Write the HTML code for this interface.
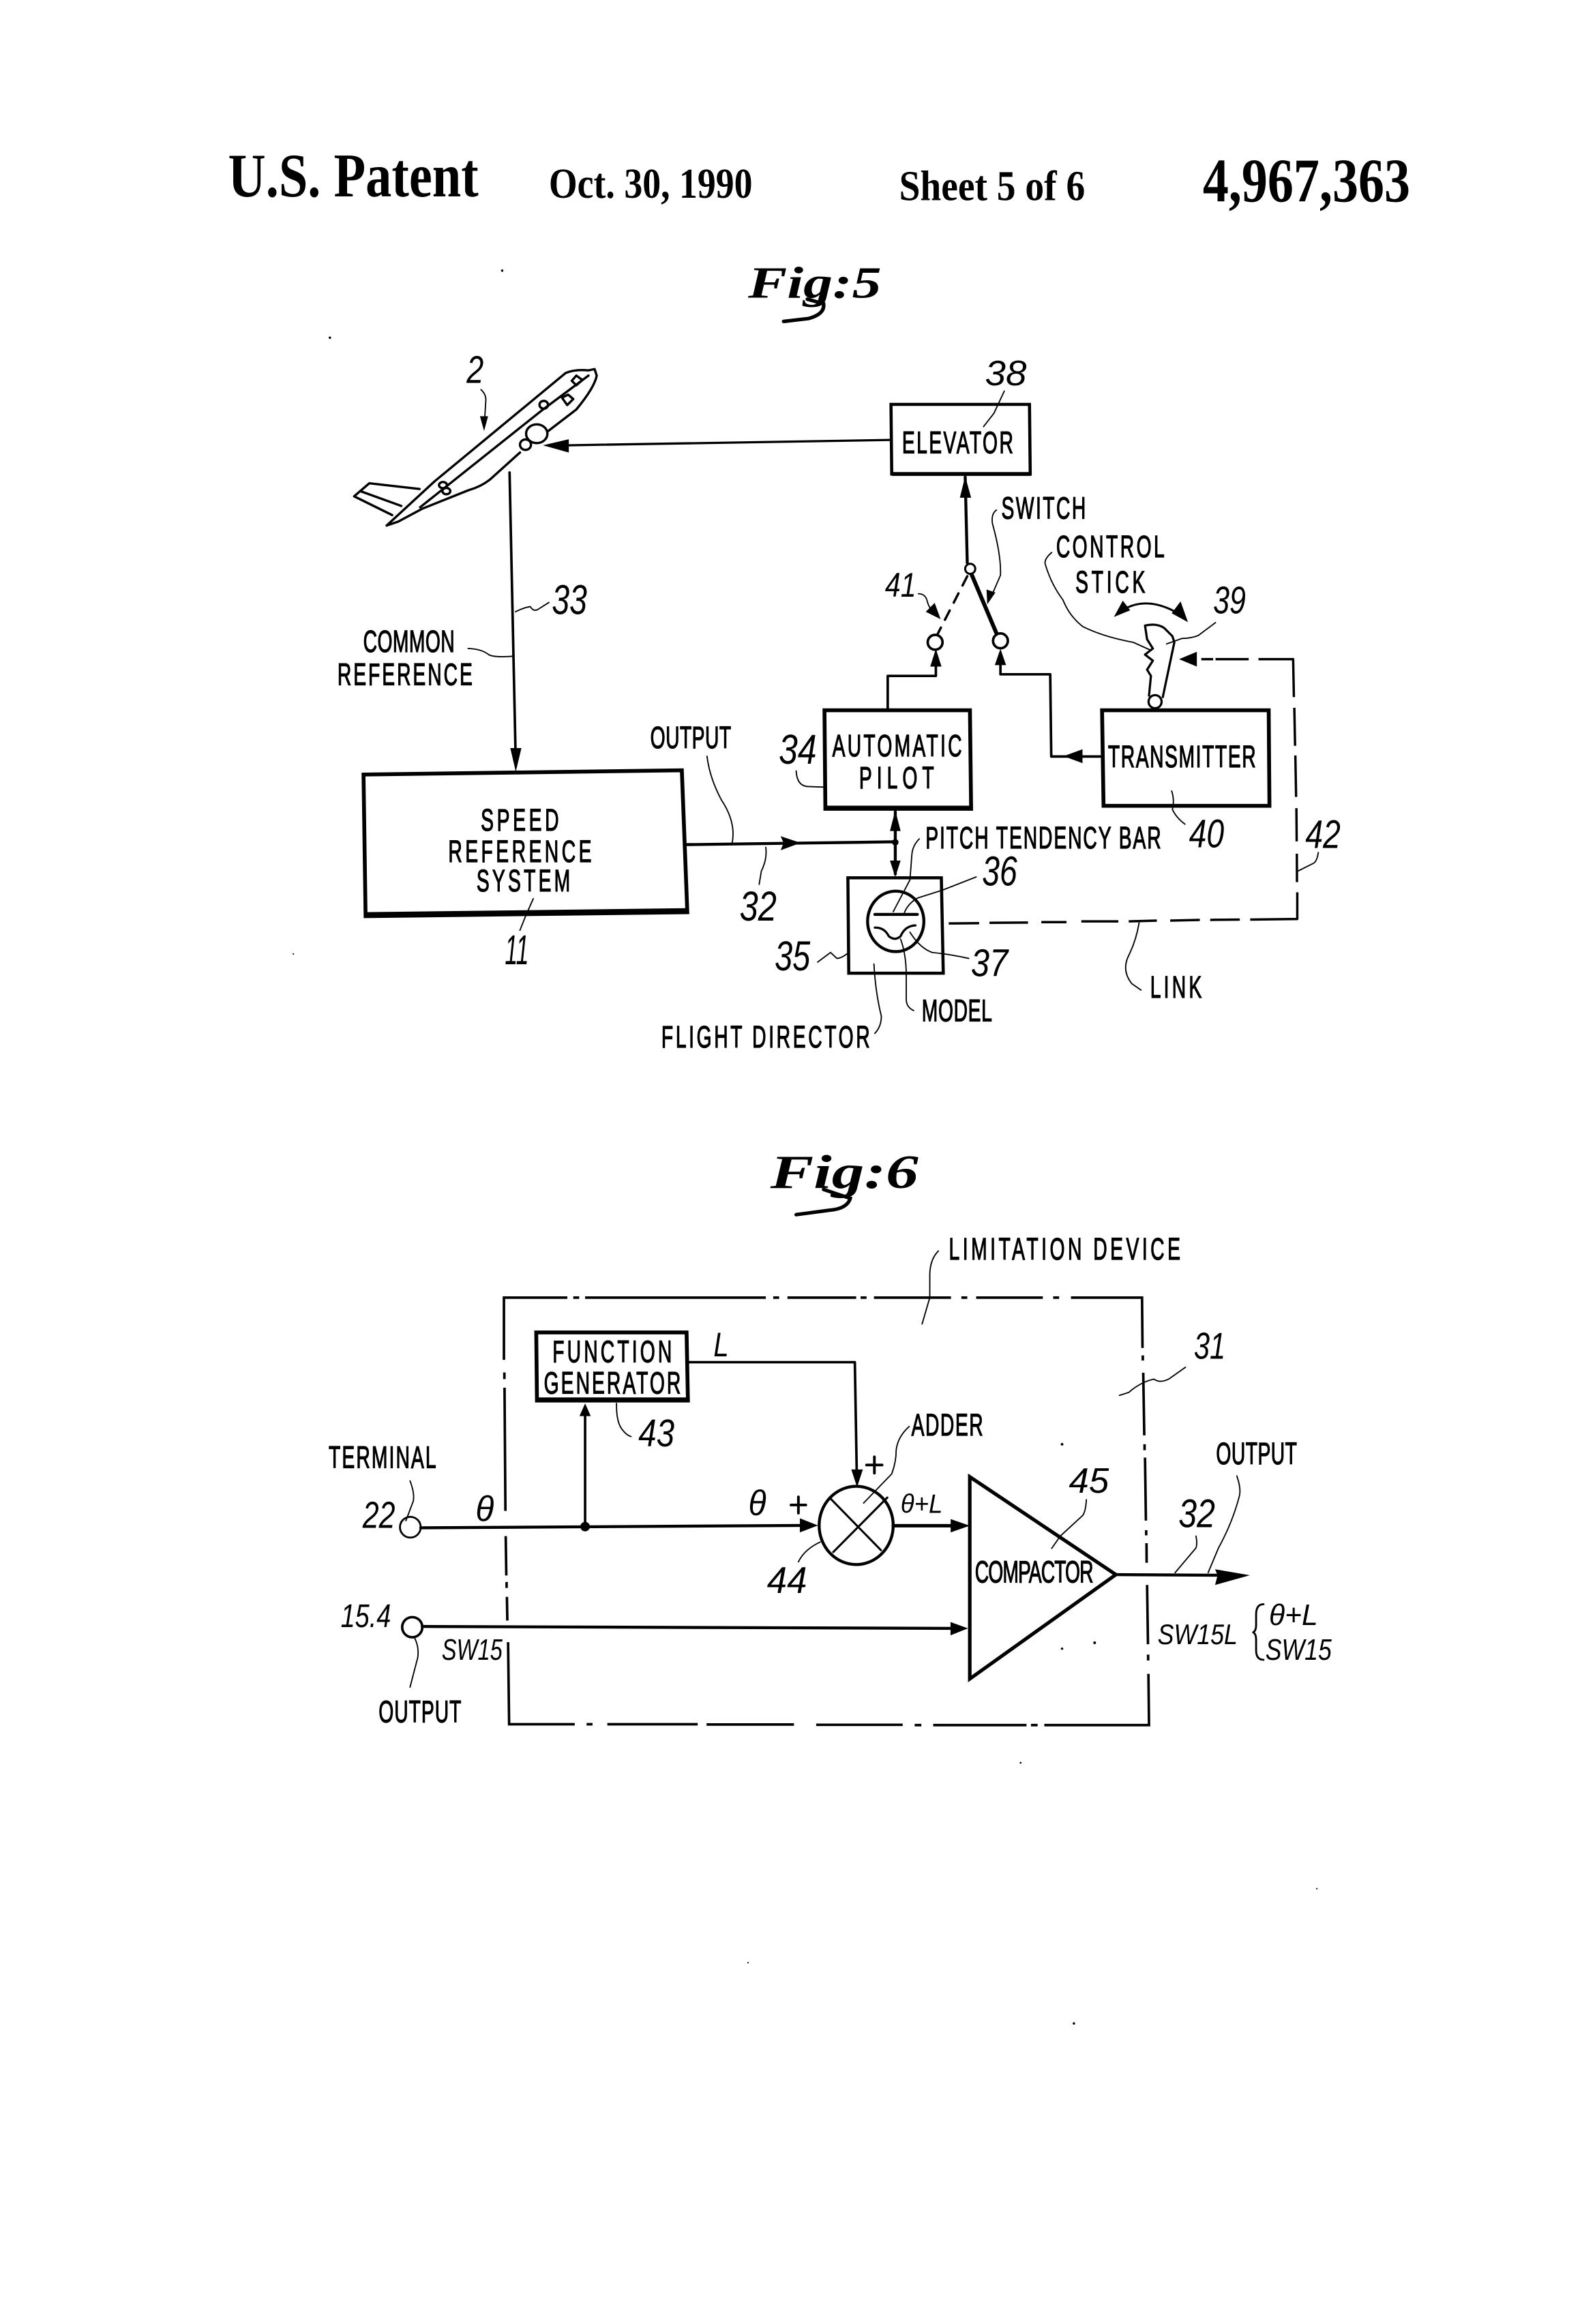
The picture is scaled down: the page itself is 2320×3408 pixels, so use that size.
<!DOCTYPE html>
<html><head><meta charset="utf-8"><title>U.S. Patent 4,967,363 Sheet 5</title>
<style>
html,body{margin:0;padding:0;background:#fff}
svg{display:block}
.n{fill:none;stroke:#000;stroke-width:1.7;stroke-linejoin:round;stroke-linecap:round}
.m{fill:none;stroke:#000;stroke-width:2.1;stroke-linejoin:miter}
.h{fill:none;stroke:#000;stroke-width:2.6;stroke-linejoin:miter}
.t{fill:none;stroke:#000;stroke-width:.85;stroke-linecap:round;stroke-linejoin:round}
.f{fill:#000;stroke:none}
.p{fill:none;stroke:#000;stroke-width:3.4;vector-effect:non-scaling-stroke;stroke-linejoin:round;stroke-linecap:round}
.c{font-family:"Liberation Sans",sans-serif;font-size:21px;fill:#000;stroke:#000;stroke-width:.6}
.i{font-family:"Liberation Sans",sans-serif;font-style:italic;font-size:26px;fill:#000}
.s{font-family:"Liberation Serif",serif;font-weight:bold;fill:#000}
.g{font-family:"Liberation Serif",serif;font-weight:bold;font-style:italic;fill:#000}
</style></head><body>
<svg xmlns="http://www.w3.org/2000/svg" width="2320" height="3408" viewBox="0 0 1068 1568.9">
<rect width="1068" height="1568.9" fill="#fff"/>

<!-- header -->
<text class="s" x="154" y="132.5" font-size="42" textLength="169" lengthAdjust="spacingAndGlyphs">U.S. Patent</text>
<text class="s" x="370.5" y="133.5" font-size="29" textLength="137.5" lengthAdjust="spacingAndGlyphs">Oct. 30, 1990</text>
<text class="s" x="607" y="135" font-size="29" textLength="125.5" lengthAdjust="spacingAndGlyphs">Sheet 5 of 6</text>
<text class="s" x="812" y="136" font-size="42" textLength="140" lengthAdjust="spacingAndGlyphs">4,967,363</text>

<!-- Fig 5 title -->
<text class="g" x="505" y="201" font-size="30" textLength="90" lengthAdjust="spacingAndGlyphs">Fig:5</text>
<path d="M545 202 L556 205 Q557 212 546 215 L529 217" fill="none" stroke="#000" stroke-width="2.4" stroke-linecap="round"/>

<!-- plane -->
<g transform="translate(207.2,221) scale(.2055,.176)">
<path class="p" d="M262 760 L420 590 L850 175 Q880 160 925 165 L945 160 L952 185 Q945 230 885 315 L790 400"/>
<path class="p" d="M700 480 L600 585 Q570 612 530 625 L380 695 L300 745 L262 760"/>
<path class="p" d="M372 690 L770 320 L925 185"/>
<path class="p" d="M370 620 L205 598 L155 648 L280 720"/>
<path class="p" d="M175 628 L310 685"/>
<ellipse class="p" cx="755" cy="408" rx="35" ry="36"/>
<ellipse class="p" cx="718" cy="450" rx="18" ry="20"/>
<ellipse class="p" cx="447" cy="605" rx="13" ry="12"/>
<ellipse class="p" cx="458" cy="628" rx="13" ry="12"/>
<ellipse class="p" cx="778" cy="297" rx="14" ry="15"/>
<path class="p" d="M838 270 L858 258 L875 275 L855 298 Z"/>
<path class="p" d="M870 205 L885 185 L905 202 L885 222 Z"/>
</g>
<text class="i" x="315" y="258.5" textLength="11.5" lengthAdjust="spacingAndGlyphs">2</text>
<path class="t" d="M324.7 263 Q328 266 328 270 L326.8 289"/>
<polygon class="f" points="324,281 329.5,281 326.8,291"/>

<!-- elevator -->
<path class="m" d="M601.5 273 H695 L695.5 320 H602 Z"/>
<path class="h" d="M602 320 H696"/>
<text class="c" transform="translate(609,306) scale(.62,1)" textLength="121" lengthAdjust="spacing">ELEVATOR</text>
<text class="i" x="665" y="260" textLength="28" lengthAdjust="spacingAndGlyphs" style="font-size:24px">38</text>
<path class="t" d="M678 264 L671 279 L664 288"/>
<path class="n" d="M601 297 L384 300.6" style="stroke-width:1.5"/>
<polygon class="f" points="366.5,300.6 384,296.5 384,305.5"/>

<!-- common reference -->
<path class="n" d="M344 319 L348 507"/>
<polygon class="f" points="344.5,505 352,505 348.2,521"/>
<path class="t" d="M348 413 Q354 410 358 409.5 Q360 413 363 411.5 L370.6 406.7"/>
<text class="i" x="372.6" y="414.6" textLength="23.7" lengthAdjust="spacingAndGlyphs" style="font-size:28px">33</text>
<text class="c" transform="translate(245.2,440) scale(.62,1)" textLength="99.5" lengthAdjust="spacing">COMMON</text>
<text class="c" transform="translate(227.8,462.5) scale(.62,1)" textLength="147" lengthAdjust="spacing">REFERENCE</text>
<path class="t" d="M316 437.8 Q325 438 330 442 Q334 444 346 443"/>

<!-- speed reference -->
<path class="h" d="M245.4 522.9 L460.3 520 L464 615.8 L246.8 618.5 Z"/>
<path class="h" d="M246.8 617.5 L464 614.8" style="stroke-width:3.4"/>
<text class="c" transform="translate(324.6,560.7) scale(.62,1)" textLength="85" lengthAdjust="spacing">SPEED</text>
<text class="c" transform="translate(302.6,582) scale(.62,1)" textLength="156" lengthAdjust="spacing">REFERENCE</text>
<text class="c" transform="translate(321.7,601.8) scale(.62,1)" textLength="102" lengthAdjust="spacing">SYSTEM</text>
<text class="i" x="340.8" y="651" textLength="16.2" lengthAdjust="spacingAndGlyphs" style="font-size:28px">11</text>
<path class="t" d="M360 606.7 L355 618 L351 628"/>
<path class="n" d="M464 570.2 L603.6 568.3" style="stroke-width:2"/>
<polygon class="f" points="540.5,569 527,564.5 529,569 527,574"/>
<text class="c" transform="translate(439,505) scale(.62,1)" textLength="88" lengthAdjust="spacing">OUTPUT</text>
<path class="t" d="M477.3 510.5 Q479 525 487 540 Q497 555 494.3 569"/>
<path class="t" d="M517 572 Q518 580 514 588 L512.5 597"/>
<text class="i" x="499.3" y="621.5" textLength="25" lengthAdjust="spacingAndGlyphs" style="font-size:28px">32</text>

<!-- automatic pilot -->
<path class="h" d="M556.6 479.5 H654.8 L655.6 546 H557.2 Z"/>
<path class="h" d="M557 545.5 H655.6" style="stroke-width:3.2"/>
<text class="c" transform="translate(561.9,510.5) scale(.62,1)" textLength="141" lengthAdjust="spacing">AUTOMATIC</text>
<text class="c" transform="translate(580,532.2) scale(.62,1)" textLength="81.5" lengthAdjust="spacing">PILOT</text>
<text class="i" x="525.8" y="515.5" textLength="25.5" lengthAdjust="spacingAndGlyphs" style="font-size:28px">34</text>
<path class="t" d="M537.5 520.4 Q538 531 546 531 L556.6 531.4"/>
<path class="n" d="M604.4 548 V590" style="stroke-width:2"/>
<polygon class="f" points="604.4,547 600.8,561 608,561"/>
<polygon class="f" points="604.4,592 600.8,581 608,581"/>
<circle class="f" cx="604.4" cy="568.6" r="2.2"/>
<path class="n" d="M599.3 479 V456.3 H631.8 V442"/>
<polygon class="f" points="631.8,438 628,450 635.6,450"/>

<!-- flight director -->
<path class="m" d="M572.4 592.6 H635.5 L636.8 657 H573 Z"/>
<ellipse cx="604.7" cy="622" rx="19" ry="20.4" class="n" style="stroke-width:2"/>
<path class="n" d="M590.6 617.3 H619.3" style="stroke-width:2"/>
<path class="n" d="M590.6 626.2 Q597 626 600 632 Q604.4 635.5 608 632 Q611 625 618 624.7" style="stroke-width:1.5"/>
<path class="t" d="M620.6 566.3 Q616 571 615.6 577 L614.3 594 L603 615.5"/>
<text class="c" transform="translate(624.8,572.8) scale(.62,1)" textLength="256.5" lengthAdjust="spacing">PITCH TENDENCY BAR</text>
<path class="t" d="M659 592 L636 601 L619.3 606.3 Q613 610 610.6 616"/>
<text class="i" x="663" y="597.8" textLength="23.7" lengthAdjust="spacingAndGlyphs" style="font-size:28px">36</text>
<path class="t" d="M654 647 Q640 644 629.3 643 Q621 640 614.3 629.3"/>
<text class="i" x="655.5" y="659" textLength="25" lengthAdjust="spacingAndGlyphs" style="font-size:26px">37</text>
<text class="i" x="523" y="655" textLength="24" lengthAdjust="spacingAndGlyphs" style="font-size:28px">35</text>
<path class="t" d="M552 649.5 L560.7 643 L565 647 Q568 647 573 643"/>
<path class="t" d="M608 634 Q612 645 611.8 660 L611.8 675 Q612 680 616.8 682.2"/>
<text class="c" transform="translate(622.3,689.5) scale(.62,1)" textLength="76.5" lengthAdjust="spacing">MODEL</text>
<path class="t" d="M590 650.8 Q591 670 595 686 Q595 693 590.6 697.6"/>
<text class="c" transform="translate(446.5,707) scale(.62,1)" textLength="227" lengthAdjust="spacing">FLIGHT DIRECTOR</text>

<!-- switch -->
<path class="n" d="M651.6 322 L653 380" style="stroke-width:2"/>
<polygon class="f" points="651.6,321.5 648,336 655.6,336"/>
<circle cx="655" cy="384" r="3.4" class="n" style="stroke-width:1.4"/>
<path class="n" d="M656 388 L672.7 427.5" style="stroke-width:2.7"/>
<path class="n" d="M653 389 L633 428" style="stroke-width:1.6;stroke-dasharray:7 6"/>
<circle cx="631.3" cy="433.6" r="5" class="n" style="stroke-width:1.7"/>
<circle cx="675.4" cy="432.6" r="5" class="n" style="stroke-width:1.7"/>
<text class="c" transform="translate(676,350) scale(.62,1)" textLength="92" lengthAdjust="spacing">SWITCH</text>
<path class="t" d="M672.7 344.3 Q669 347 670 353.5 Q676 375 675.4 388.4 L669.5 402"/>
<polygon class="f" points="666.5,408 666,398 672,400"/>
<text class="i" x="597.5" y="402.8" textLength="21" lengthAdjust="spacingAndGlyphs" style="font-size:23px">41</text>
<path class="t" d="M620 400.8 Q625 401 626 406 Q627 410 630 413"/>
<polygon class="f" points="635,418 625,413 631,407"/>
<path class="n" d="M743 510.7 H709.7 L709 455.2 H675.4 V445"/>
<polygon class="f" points="675.4,438 671.6,449 679.2,449"/>
<polygon class="f" points="718,510.5 730.8,505.8 730.8,515.2"/>

<!-- transmitter -->
<path class="h" d="M744 479.5 H856.5 L857 544 H745 Z"/>
<text class="c" transform="translate(748,518) scale(.62,1)" textLength="161" lengthAdjust="spacing">TRANSMITTER</text>
<path class="t" d="M791 534 Q793 540 791.5 546.4 Q794 552 800 556.4"/>
<text class="i" x="802.7" y="572" textLength="23.7" lengthAdjust="spacingAndGlyphs" style="font-size:27px">40</text>

<!-- stick -->
<path class="n" d="M775.7 469.6 L777 456.3 L774.4 452.1 L778.3 446 L773 441.9 L778.3 437.8 L774.4 431.6 L773 422.3 Q781 420.5 786 424 L791.5 429.5 L792.8 433.6 L785 470.6" style="stroke-width:1.5"/>
<circle cx="779.8" cy="473.7" r="4.4" class="n" style="stroke-width:1.5"/>
<text class="c" transform="translate(713,376) scale(.62,1)" textLength="118" lengthAdjust="spacing">CONTROL</text>
<text class="c" transform="translate(726,400) scale(.62,1)" textLength="76" lengthAdjust="spacing">STICK</text>
<path class="t" d="M710 373 Q704 378 706 382 Q710 395 717.6 405 Q722 416 731 423 Q745 430 765 433.6 L777 439"/>
<path class="n" d="M756 413 Q775 400 800 417" style="stroke-width:1.4"/>
<polygon class="f" points="752,416.5 758,405.5 763,412"/>
<polygon class="f" points="802,420 791,414 797,406"/>
<text class="i" x="819" y="414" textLength="22" lengthAdjust="spacingAndGlyphs">39</text>
<path class="t" d="M820.6 420.3 L809 429 Q804 431 798 431 L787.6 434.7"/>

<!-- link -->
<polygon class="f" points="796,445 808,440 808,450"/>
<path class="n" d="M811 445 H819 M820.6 445 H843 M849.6 445 H873 L873.5 470.6 M873.8 477.8 L874.3 503.5 M874.5 510 L875 538 M875.2 545.6 L875.4 568 M875.5 576.3 L875.6 595.5 M875.8 602.4 V620.4 L844 620.8 M817 621 L837 620.8 M790 621.5 L810 621 M762 622 L781 621.5 M730 622 L755 622 M703 622.5 L720 622.5 M668 623 L694 622.8 M640.5 623.4 L661 623.2" style="stroke-width:1.6;stroke-linecap:butt"/>
<text class="i" x="881.3" y="572.5" textLength="23.7" lengthAdjust="spacingAndGlyphs" style="font-size:27px">42</text>
<path class="t" d="M890 575.5 Q889 582 886.3 583 L876.3 588"/>
<path class="t" d="M769 623 Q767 635 762 645 Q757 655 764 664 L770.3 668.4"/>
<text class="c" transform="translate(776.5,673.5) scale(.62,1)" textLength="56" lengthAdjust="spacing">LINK</text>

<!-- Fig 6 title -->
<text class="g" x="520" y="802" font-size="32" textLength="100" lengthAdjust="spacingAndGlyphs">Fig:6</text>
<path d="M556 803 L574 809 Q572 816 560 817 L537.5 820" fill="none" stroke="#000" stroke-width="2.4" stroke-linecap="round"/>

<!-- Limitation box -->
<path d="M340.2 918 V876 H383 M387 876 H391 M395 876 H517 M522 876 H526 M531.6 876 H578 M581 876 H585 M590 876 H642 M649 876 H653 M659 876 H704 M711 876 H715 M723 876 H771 L771.3 910 M771.5 915 V918.5 M771.8 926.7 L772.5 969 M772.7 975 V979 M773 984 L773.6 1026.5 M773.8 1033 V1036.5 M774 1041.8 L774.1 1055 M774.4 1070 L775 1110 M775.1 1117 V1121 M775.3 1130 L775.7 1164.6 H705 M696 1164.6 H700.5 M630 1164.6 H693 M617.5 1164.6 H622 M551 1164.4 H609.4 M477 1164.2 H536 M410 1164 H471 M396 1164 H400 M388 1164 H345 L343.7 1164 L343 1108.6 M342.5 1094 L342.2 1078 M342 1072 V1068 M341.8 1063.6 L341.4 1037 M341.2 1020 L340.6 936.8 M340.5 931 V926.5" fill="none" stroke="#000" stroke-width="1.7"/>
<text class="c" transform="translate(640.6,850.3) scale(.62,1)" textLength="252" lengthAdjust="spacing">LIMITATION DEVICE</text>
<path class="t" d="M633.5 844.5 Q628 850 627.7 860 L627.7 876 L622.5 893.8"/>
<text class="i" x="806" y="917.3" textLength="21.3" lengthAdjust="spacingAndGlyphs" style="font-size:25px">31</text>
<path class="t" d="M800.3 923 L789 931 Q783 934 779 931 Q770 933 762 940 L755.7 942"/>

<!-- function generator -->
<path class="h" d="M362 899.5 H463.5 L464.4 945.5 H362.5 Z"/>
<path class="h" d="M362.5 945 H464.4" style="stroke-width:3.2"/>
<text class="c" transform="translate(373,919.6) scale(.62,1)" textLength="130" lengthAdjust="spacing">FUNCTION</text>
<text class="c" transform="translate(367.2,940.7) scale(.62,1)" textLength="149" lengthAdjust="spacing">GENERATOR</text>
<text class="i" x="481.7" y="915.6" textLength="10.3" lengthAdjust="spacingAndGlyphs" style="font-size:23px">L</text>
<path class="n" d="M464.4 919.6 H577.1 L578.4 995"/>
<polygon class="f" points="578.6,1004 574.7,992 582.5,992"/>
<text class="i" x="431" y="976.4" textLength="24.3" lengthAdjust="spacingAndGlyphs">43</text>
<path class="t" d="M416.2 947.4 Q416 960 420 965 Q423 969 426 969.8"/>
<path class="n" d="M395 1030.6 V952"/>
<polygon class="f" points="395,947.4 391.2,956 398.8,956"/>
<circle class="f" cx="395" cy="1030.6" r="3.2"/>

<!-- terminals -->
<text class="c" transform="translate(221.9,991) scale(.62,1)" textLength="117" lengthAdjust="spacing">TERMINAL</text>
<path class="t" d="M276.8 999.7 Q280 1008 279 1013.4 L274 1026.6"/>
<text class="i" x="244.8" y="1031.4" textLength="22" lengthAdjust="spacingAndGlyphs" style="font-size:25px">22</text>
<circle cx="277" cy="1031" r="7" class="n" style="stroke-width:1.3"/>
<path class="n" d="M284 1031.4 L545 1029.8" style="stroke-width:2"/>
<polygon class="f" points="552.2,1029.8 540,1025 540,1034.5"/>
<text class="i" x="321" y="1026.6" textLength="12.4" lengthAdjust="spacingAndGlyphs" style="font-size:24px">θ</text>
<text class="i" x="505.2" y="1022.7" textLength="12" lengthAdjust="spacingAndGlyphs" style="font-size:24px">θ</text>
<path class="n" d="M534 1016 H544 M539 1010.5 V1021.5" style="stroke-width:1.8"/>
<path class="n" d="M585 989 H595.5 M590.3 983.5 V994.5" style="stroke-width:1.8"/>

<!-- adder -->
<ellipse cx="578" cy="1029.8" rx="25" ry="26.4" class="n" style="stroke-width:2"/>
<path class="n" d="M561 1012 L594.7 1046.5 M599 1011 L562.5 1047.8" style="stroke-width:1.4"/>
<text class="c" transform="translate(615.3,969) scale(.62,1)" textLength="78" lengthAdjust="spacing">ADDER</text>
<path class="t" d="M613.8 963 Q606 970 605 979 Q605 987 602 995 L583 1014.7"/>
<text class="i" x="608" y="1021.4" textLength="28.4" lengthAdjust="spacingAndGlyphs" style="font-size:18px">θ+L</text>
<path class="n" d="M603 1030 H648" style="stroke-width:2.3"/>
<polygon class="f" points="654.7,1030 641.8,1025.5 641.8,1034.5"/>
<text class="i" x="517.8" y="1075.5" textLength="27" lengthAdjust="spacingAndGlyphs" style="font-size:25px">44</text>
<path class="t" d="M553.7 1041 Q543 1046 539 1054.4"/>

<!-- compactor -->
<path d="M654.7 997 L753.3 1063 L654.7 1133.4 Z" fill="none" stroke="#000" stroke-width="2.4" stroke-linejoin="miter"/>
<text class="c" transform="translate(658.2,1068.3) scale(.62,1)" textLength="129" lengthAdjust="spacing">COMPACTOR</text>
<text class="i" x="721.6" y="1007.7" textLength="27" lengthAdjust="spacingAndGlyphs" style="font-size:24px">45</text>
<path class="t" d="M733.4 1012.4 Q733 1020 731 1023 L715.8 1037 L710 1045.3"/>
<path class="n" d="M753 1063 L822 1063.4" style="stroke-width:2"/>
<polygon class="f" points="843.8,1063.4 820.3,1059.4 822,1063.4 820.3,1070"/>
<text class="i" x="795.6" y="1031" textLength="24.7" lengthAdjust="spacingAndGlyphs" style="font-size:27px">32</text>
<path class="t" d="M807.4 1037 Q808.5 1042 807.4 1045 L793.3 1061.7"/>
<text class="c" transform="translate(821,988.5) scale(.62,1)" textLength="88" lengthAdjust="spacing">OUTPUT</text>
<path class="t" d="M835 996.4 Q838 1005 836.7 1010 Q832 1028 822.6 1045 L815.6 1061.7"/>
<text class="i" x="781.5" y="1110" textLength="54" lengthAdjust="spacingAndGlyphs" style="font-size:19px">SW15L</text>
<path class="n" d="M853 1083 Q848 1083 848 1090 V1097 Q848 1101 846 1102 Q848 1103 848 1107 V1114 Q848 1120.5 853 1120.5" style="stroke-width:1.3"/>
<text class="i" x="856.7" y="1097" textLength="33" lengthAdjust="spacingAndGlyphs" style="font-size:20px">θ+L</text>
<text class="i" x="854.3" y="1120.5" textLength="44.7" lengthAdjust="spacingAndGlyphs" style="font-size:20px">SW15</text>

<!-- 15.4 -->
<text class="i" x="230" y="1098.5" textLength="33.9" lengthAdjust="spacingAndGlyphs" style="font-size:22px">15.4</text>
<circle cx="278.3" cy="1098.5" r="6.8" class="n" style="stroke-width:1.7"/>
<path class="n" d="M285 1098 L645 1099.3" style="stroke-width:2"/>
<polygon class="f" points="653.5,1099.3 641.7,1095 641.7,1104"/>
<text class="i" x="298.2" y="1120.5" textLength="41" lengthAdjust="spacingAndGlyphs" style="font-size:20px">SW15</text>
<text class="c" transform="translate(255.6,1162.7) scale(.62,1)" textLength="90" lengthAdjust="spacing">OUTPUT</text>
<path class="t" d="M280 1106 Q283 1112 282 1119 L276.8 1139"/>

<!-- specks -->
<g class="f">
<circle cx="339" cy="182.7" r=".8"/><circle cx="222.7" cy="228" r=".8"/><circle cx="717" cy="975" r=".9"/><circle cx="717" cy="1113" r=".8"/><circle cx="739" cy="1109" r=".9"/><circle cx="689" cy="1190" r=".6"/><circle cx="725" cy="1366" r=".8"/>
<circle cx="198" cy="644" r=".5"/><circle cx="505" cy="1325" r=".5"/><circle cx="889" cy="1275" r=".5"/>
</g>
</svg>
</body></html>
